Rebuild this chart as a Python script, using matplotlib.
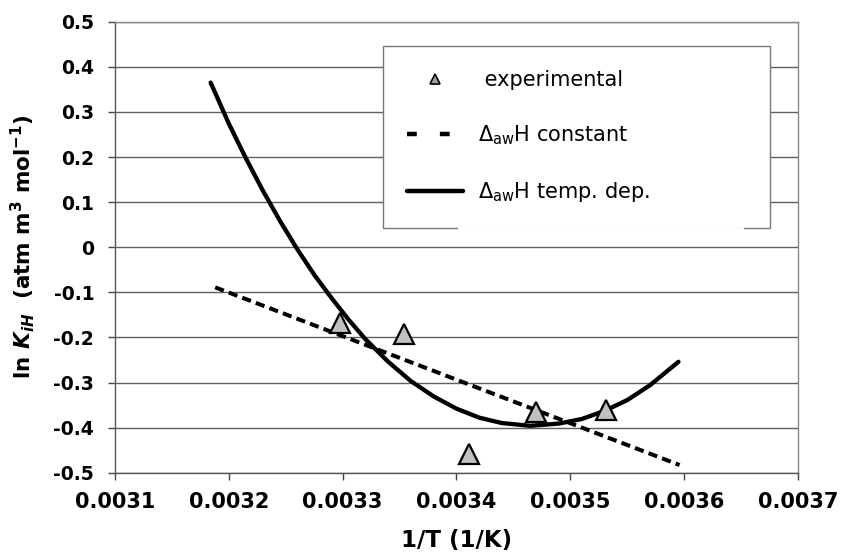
import matplotlib
matplotlib.use("Agg")
import matplotlib.pyplot as plt
from matplotlib.lines import Line2D

# experimental points
x_exp = [0.003298, 0.003354, 0.003411, 0.003470, 0.003531]
y_exp = [-0.167, -0.193, -0.459, -0.365, -0.361]

# dH constant (straight line)
x_const = [0.003188, 0.003596]
y_const = [-0.089, -0.483]

# dH temperature dependent
x_temp = [0.003184, 0.003200, 0.003215, 0.003230, 0.003245, 0.003260, 0.003275,
          0.003290, 0.003305, 0.003320, 0.003340, 0.003360, 0.003380, 0.003400,
          0.003420, 0.003440, 0.003465, 0.003490, 0.003510, 0.003530, 0.003550,
          0.003570, 0.003595]
y_temp = [0.365, 0.274, 0.197, 0.125, 0.058, -0.004, -0.061,
          -0.112, -0.160, -0.204, -0.254, -0.297, -0.331, -0.358,
          -0.378, -0.390, -0.396, -0.391, -0.381, -0.363, -0.339,
          -0.306, -0.254]

x_ticks = [0.0031, 0.0032, 0.0033, 0.0034, 0.0035, 0.0036, 0.0037]
y_ticks = [0.5, 0.4, 0.3, 0.2, 0.1, 0, -0.1, -0.2, -0.3, -0.4, -0.5]

fig = plt.figure(figsize=(8.42, 5.54), dpi=100)
ax = fig.add_axes([115/842, 1-472.7/554, 683/842, 451/554])

ax.set_xlim(0.0031, 0.0037)
ax.set_ylim(-0.5, 0.5)
ax.set_xticks(x_ticks)
ax.set_xticklabels([str(t) for t in x_ticks])
ax.set_yticks(y_ticks)
ax.set_yticklabels([str(t) for t in y_ticks])

ax.yaxis.grid(True, color="#606060", linewidth=1.0)
ax.set_axisbelow(True)

for s in ["left", "bottom"]:
    ax.spines[s].set_color("#555555")
    ax.spines[s].set_linewidth(1.0)
for s in ["top", "right"]:
    ax.spines[s].set_color("#888888")
    ax.spines[s].set_linewidth(1.0)

ax.tick_params(axis="x", direction="out", length=5, width=1, color="#444444",
               labelsize=15, pad=9)
ax.tick_params(axis="y", direction="out", length=5, width=1, color="#444444",
               labelsize=13.5, pad=10)
for lab in ax.get_xticklabels() + ax.get_yticklabels():
    lab.set_fontweight("bold")

ax.plot(x_const, y_const, color="black", linewidth=2.9, dashes=(2.3, 1.3), zorder=3)
ax.plot(x_temp, y_temp, color="black", linewidth=3.1, solid_capstyle="round",
        solid_joinstyle="round", zorder=3)
ax.plot(x_exp, y_exp, linestyle="none", marker="^", markersize=14,
        markerfacecolor="#c0c0c0", markeredgecolor="black", markeredgewidth=1.6,
        zorder=4)

ax.set_xlabel("1/T (1/K)", fontsize=16.5, fontweight="bold", labelpad=12)
ax.set_ylabel(r"ln $\mathbfit{K}_{\mathbfit{iH}}$  (atm m$^{\mathbf{3}}$ mol$^{\mathbf{-1}}$)",
              fontsize=15.5, fontweight="bold")
ax.yaxis.set_label_coords(-0.114, 0.5)

# legend with proxy handles
h1 = Line2D([], [], linestyle="none", marker="^", markersize=7.5,
            markerfacecolor="#a0a0a0", markeredgecolor="black", markeredgewidth=1.2)
h2 = Line2D([], [], color="black", linewidth=3.2, dashes=(2.2, 5.2))
h3 = Line2D([], [], color="black", linewidth=3.2, solid_capstyle="round")
leg = ax.legend([h1, h2, h3],
                [" experimental", r"Δ$_{\mathregular{aw}}$H constant",
                 r"Δ$_{\mathregular{aw}}$H temp. dep."],
                loc="upper left", mode="expand",
                bbox_to_anchor=(383/842, 1-228/554, 387/842, 182/554),
                bbox_transform=fig.transFigure, borderaxespad=0,
                fontsize=15, frameon=True, fancybox=False, framealpha=1,
                edgecolor="#777777", handlelength=2.7, handletextpad=0.7,
                labelspacing=1.6, borderpad=1.15)
leg.get_frame().set_linewidth(1.0)

# gap in the legend's bottom edge, as in the original
fig.add_artist(Line2D([459/842, 742/842], [1-228/554, 1-228/554], color="white",
                      linewidth=2, transform=fig.transFigure, zorder=10))

fig.savefig("out.png", dpi=100)
